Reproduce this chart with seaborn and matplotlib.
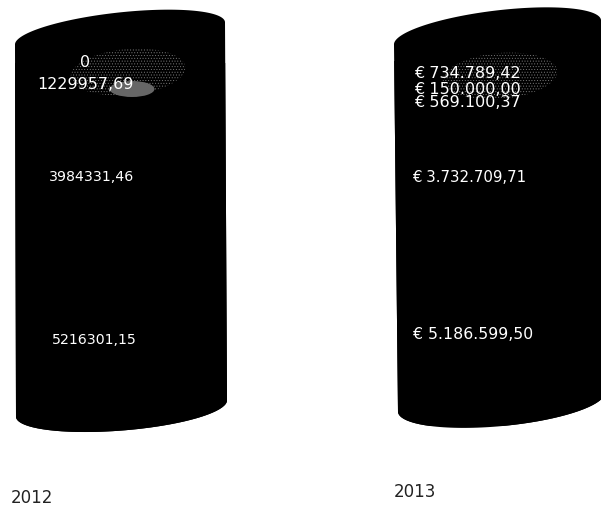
import numpy as np
import matplotlib
matplotlib.use("Agg")
import matplotlib.pyplot as plt
from matplotlib.patches import Ellipse, PathPatch
from matplotlib.path import Path
import seaborn as sns

years = ["2012", "2013"]
values_2012 = [5216301.15, 3984331.46, 1229957.69, 0]
labels_2012 = ["5216301,15", "3984331,46", "1229957,69", "0"]
values_2013 = [5186599.50, 3732709.71, 569100.37, 150000.00, 734789.42]
labels_2013 = ["€ 5.186.599,50", "€ 3.732.709,71", "€ 569.100,37", "€ 150.000,00", "€ 734.789,42"]

W, H = 601, 508
sns.set_theme(style="white", rc={"font.family": "DejaVu Sans"})
plt.rcParams["hatch.linewidth"] = 0.4
fig = plt.figure(figsize=(W / 100, H / 100), dpi=100, facecolor="white")

px = fig.add_axes([0, 0, 1, 1], zorder=1)
px.set_xlim(0, W)
px.set_ylim(H, 0)
px.set_axis_off()


def arc(p0, p1, b, start, stop):
    p0, p1 = np.array(p0, float), np.array(p1, float)
    c = (p0 + p1) / 2
    u = (p1 - p0) / 2
    n = np.array([-u[1], u[0]]) / np.hypot(*u) * b
    t = np.linspace(start, stop, 80)
    return c + np.outer(np.cos(t), u) + np.outer(np.sin(t), n)


def cylinder(name, values, labels, geom, base, scale, centre, lab_x, sizes, glow):
    tl, tr, bl, br, bt, bb = geom
    top = arc(tl, tr, bt, np.pi, 2 * np.pi)
    bot = arc(bl, br, bb, np.pi, 0)
    outline = np.vstack([top, bot[::-1], top[:1]])
    silhouette = Path(outline)

    ax = fig.add_axes([0, 0, 1, 1], zorder=2)
    ax.patch.set_alpha(0)
    bottoms = np.concatenate([[0], np.cumsum(values)[:-1]])
    for v, b in zip(values, bottoms):
        sns.barplot(x=[name], y=[v], bottom=b, color="black", saturation=1,
                    width=1, ax=ax, linewidth=0)
    unit = 240
    ax.set_xlim(-centre / unit, (W - centre) / unit)
    ax.set_ylim((base - H) / scale, base / scale)
    ax.set_axis_off()
    for bar in ax.patches:
        bar.set_clip_path(silhouette, px.transData)

    # cylinder ends: the silhouette itself, behind the stacked bars
    px.add_patch(PathPatch(silhouette, facecolor="black", edgecolor="none"))

    # dithered highlight, above the bars and below the labels
    ax.add_patch(Ellipse(glow, 115, 46, angle=-5, facecolor="none", edgecolor="#777777",
                         hatch="......", linewidth=0, transform=px.transData, zorder=4))

    for v, b, t, fx, fs in zip(values, bottoms, labels, lab_x, sizes):
        ax.text((fx - centre) / unit, b + v / 2, t, color="white", fontsize=fs,
                ha="center", va="center", zorder=6, clip_on=False)
    return ax


ax12 = cylinder("2012", values_2012, labels_2012,
                ((15, 45), (225, 22), (16, 417), (227, 400), 21, 22),
                432, 35.4e-6, 121, [94, 92, 85, 85], [10.2, 10.2, 11.5, 11.5], (128, 72))
ax12.add_patch(Ellipse((132, 89), 45, 16, facecolor="#666666", edgecolor="none",
                       transform=px.transData, zorder=5))
cylinder("2013", values_2013, labels_2013,
         ((394, 45), (601, 20), (398, 412), (605, 392), 22, 24),
         426, 35.2e-6, 498, [473, 469, 467, 467, 467], [11.3, 10.8, 11.5, 11.5, 11.5], (500, 76))

px.text(32, 498, years[0], fontsize=12, ha="center", va="center", color="#222222")
px.text(415, 492, years[1], fontsize=12, ha="center", va="center", color="#222222")

fig.savefig("out.png", dpi=100, facecolor="white")
